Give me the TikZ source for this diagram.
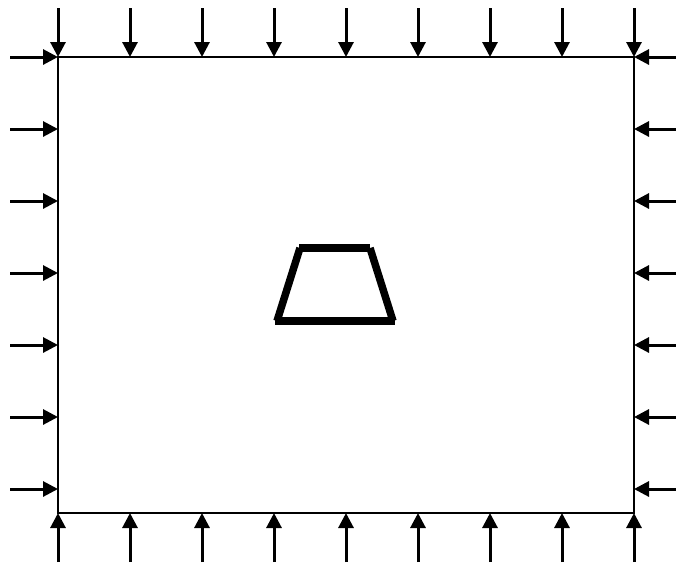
\documentclass[tikz,border=0pt]{standalone}
\usepackage{tikz}
\usetikzlibrary{arrows.meta}

\begin{document}
\begin{tikzpicture}[x=1pt,y=-1pt,
    load/.style={line width=3pt,-{Triangle[length=15pt,width=15pt]}},
    wall/.style={line width=2.2pt}]
  \useasboundingbox (0,0) rectangle (676,563);

  % Platte
  \draw[wall] (58,57) rectangle (634,513);

  % Druck oben und unten
  \foreach \x in {58,130,...,634} {
    \draw[load] (\x,8) -- (\x,57);
    \draw[load] (\x,562) -- (\x,513);
  }

  % Druck links und rechts
  \foreach \y in {57,129,...,489} {
    \draw[load] (10,\y) -- (58,\y);
    \draw[load] (676,\y) -- (634,\y);
  }

  % Oeffnung (Trapez)
  \draw[line width=7.5pt] (299,248) -- (370,248);
  \draw[line width=7.5pt] (300,248) -- (277,321);
  \draw[line width=7.5pt] (370,248) -- (393,321);
  \draw[line width=7.5pt] (275,321) -- (395,321);
\end{tikzpicture}
\end{document}
